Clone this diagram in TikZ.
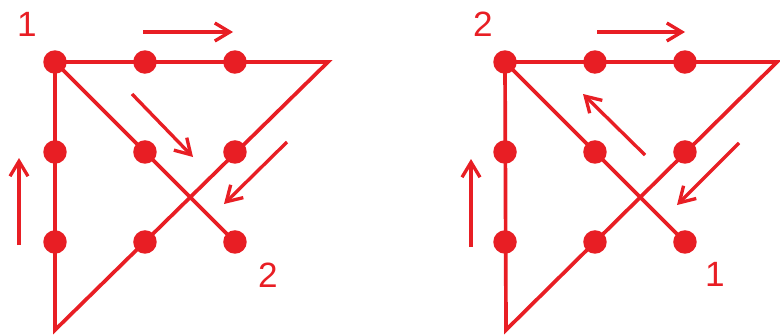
\documentclass[tikz,border=0pt]{standalone}
\usepackage{fontspec}
\setmainfont{Liberation Sans}
\usepackage{tikz}
\usetikzlibrary{arrows.meta, positioning, backgrounds}
\definecolor{puzred}{RGB}{232,30,36}
\tikzset{
    puzdot/.style={circle, fill=puzred, inner sep=0pt, minimum size=0.47cm},
    puzline/.style={draw=puzred, line width=2.1pt, line join=miter},
    puzarrow/.style={-{Straight Barb[length=3mm, width=3.6mm]}, draw=puzred, line width=1.9pt},
    puzlabel/.style={font=\fontsize{20}{20}\selectfont, text=puzred, inner sep=0pt}
}

\begin{document}
\begin{tikzpicture}[x=0.02cm, y=-0.02cm, node distance=1.8cm, on grid]
\useasboundingbox (0,0) rectangle (780,335);

% left puzzle
\node[puzdot] (a11) at (55,62) {};
\node[puzdot, right=of a11] (a12) {};
\node[puzdot, right=of a12] (a13) {};
\node[puzdot, below=of a11] (a21) {};
\node[puzdot, right=of a21] (a22) {};
\node[puzdot, right=of a22] (a23) {};
\node[puzdot, below=of a21] (a31) {};
\node[puzdot, right=of a31] (a32) {};
\node[puzdot, right=of a32] (a33) {};
\coordinate (atip) at (328,62);
\coordinate (abot) at (55,330);
\node[puzlabel] (astart) at (27,24) {1};
\node[puzlabel] (aend) at (268,275) {2};

\begin{scope}[on background layer]
\draw[puzline] (a11.center) -- (atip) -- (abot) -- (a11.center) -- (a33.center);
\end{scope}

\coordinate (ar1s) at (143,32);  \coordinate (ar1e) at (233,32);
\coordinate (ar2s) at (132,94);  \coordinate (ar2e) at (193,157);
\coordinate (ar3s) at (287,142); \coordinate (ar3e) at (224,204);
\coordinate (ar4s) at (19,245);  \coordinate (ar4e) at (19,158);
\draw[puzarrow] (ar1s) -- (ar1e);
\draw[puzarrow] (ar2s) -- (ar2e);
\draw[puzarrow] (ar3s) -- (ar3e);
\draw[puzarrow] (ar4s) -- (ar4e);

% right puzzle
\node[puzdot] (b11) at (505,62) {};
\node[puzdot, right=of b11] (b12) {};
\node[puzdot, right=of b12] (b13) {};
\node[puzdot, below=of b11] (b21) {};
\node[puzdot, right=of b21] (b22) {};
\node[puzdot, right=of b22] (b23) {};
\node[puzdot, below=of b21] (b31) {};
\node[puzdot, right=of b31] (b32) {};
\node[puzdot, right=of b32] (b33) {};
\coordinate (btip) at (777,62);
\coordinate (bbot) at (506,330);
\node[puzlabel] (bend) at (483,24) {2};
\node[puzlabel] (bstart) at (715,274) {1};

\begin{scope}[on background layer]
\draw[puzline] (b33.center) -- (b11.center) -- (btip) -- (bbot) -- (b11.center);
\end{scope}

\coordinate (br1s) at (597,32);  \coordinate (br1e) at (685,32);
\coordinate (br2s) at (645,155); \coordinate (br2e) at (583,94);
\coordinate (br3s) at (739,143); \coordinate (br3e) at (677,205);
\coordinate (br4s) at (471,247); \coordinate (br4e) at (471,159);
\draw[puzarrow] (br1s) -- (br1e);
\draw[puzarrow] (br2s) -- (br2e);
\draw[puzarrow] (br3s) -- (br3e);
\draw[puzarrow] (br4s) -- (br4e);

\end{tikzpicture}
\end{document}
